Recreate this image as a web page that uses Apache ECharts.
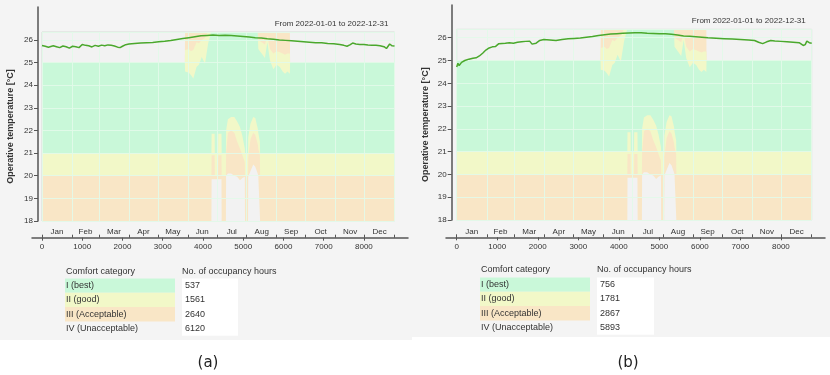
<!DOCTYPE html>
<html>
<head>
<meta charset="utf-8">
<script src="https://cdn.jsdelivr.net/npm/echarts@6/dist/echarts.min.js"></script>
<style>
  html, body { margin: 0; padding: 0; background: #fff; }
  #chart { width: 830px; height: 375px; }
</style>
</head>
<body>
<div id="chart"></div>
<script>
// ---- data ----
const monthNames = ["Jan", "Feb", "Mar", "Apr", "May", "Jun", "Jul", "Aug", "Sep", "Oct", "Nov", "Dec"];
const monthEdges = [0, 744, 1416, 2160, 2880, 3624, 4344, 5088, 5832, 6552, 7296, 8016, 8760];
const monthMids = [372, 1080, 1788, 2520, 3252, 3984, 4716, 5460, 6192, 6924, 7656, 8388];
const hourTicks = [0, 1000, 2000, 3000, 4000, 5000, 6000, 7000, 8000];
const tempTicks = [18, 19, 20, 21, 22, 23, 24, 25, 26];

// comfort band limits over the year (same in both cases)
const bandHours = [0, 3550, 3555, 3650, 3700, 3760, 3840, 3900, 3970, 4050, 4130, 4210,
  4215, 4290, 4295, 4375, 4380, 4460, 4465, 4570, 4575, 4620, 4700, 4780, 4850, 4920, 4980, 5040,
  5045, 5120, 5125, 5180, 5250, 5300, 5360, 5370, 5375, 5415, 5420, 5460, 5540, 5600, 5665, 5750,
  5830, 5910, 5980, 6040, 6100, 6160, 6165, 8760];
// lower edge of the acceptable (III) band; below it nothing is drawn
const lowIII = [18, 18, 18, 18, 18, 18, 18, 18, 18, 18, 18, 18,
  19.85, 19.85, 19.85, 19.85, 19.85, 19.85, 18, 18, 20.0, 20.1, 20.1, 20.0, 19.95, 19.8, 19.9, 19.95,
  18, 18, 19.95, 20.2, 20.5, 20.4, 20.1, 20.05, 20.0, 19.95, 18, 18, 18, 18, 18, 18,
  18, 18, 18, 18, 18, 18, 18, 18];
const lowII = [20, 20, 20, 20, 20, 20, 20, 20, 20, 20, 20, 20,
  20.9, 20.9, 20.0, 20.0, 20.9, 20.9, 20, 20, 21.0, 21.9, 22.0, 21.9, 21.5, 21.2, 20.9, 20.6,
  20, 20, 20.8, 21.6, 21.9, 21.8, 21.4, 21.3, 21.2, 20.9, 20, 20, 20, 20, 20, 20,
  20, 20, 20, 20, 20, 20, 20, 20];
const lowI = [21, 21, 21, 21, 21, 21, 21, 21, 21, 21, 21, 21,
  21.85, 21.85, 21, 21, 21.85, 21.85, 21, 21, 22.0, 22.5, 22.6, 22.6, 22.4, 22.15, 21.75, 21.2,
  21, 21, 21.7, 22.3, 22.6, 22.55, 22.1, 22.0, 21.9, 21.5, 21, 21, 21, 21, 21, 21,
  21, 21, 21, 21, 21, 21, 21, 21];
const highI = [25, 25, 24.6, 24.55, 24.45, 24.3, 24.8, 24.9, 25.25, 24.95, 25.85, 26.4,
  26.4, 26.4, 26.4, 26.4, 26.4, 26.4, 26.4, 26.4, 26.4, 26.4, 26.4, 26.4, 26.4, 26.4, 26.4, 26.4,
  26.4, 26.4, 26.4, 26.4, 26.4, 26.4, 26.4, 26.4, 25.6, 25.5, 25.5, 25.4, 25.2, 25.9, 25.1, 24.7,
  24.9, 24.8, 24.6, 24.5, 24.6, 24.5, 25, 25];
const highII = [25, 25, 25.55, 25.6, 25.5, 25.55, 25.9, 25.85, 26.0, 26.1, 26.4, 26.4,
  26.4, 26.4, 26.4, 26.4, 26.4, 26.4, 26.4, 26.4, 26.4, 26.4, 26.4, 26.4, 26.4, 26.4, 26.4, 26.4,
  26.4, 26.4, 26.4, 26.4, 26.4, 26.4, 26.4, 26.4, 26.0, 25.95, 25.95, 25.9, 25.8, 26.2, 25.6, 25.4,
  25.5, 25.45, 25.4, 25.35, 25.4, 25.4, 25, 25];
const highIII = [25, 25, 26.4, 26.4, 26.4, 26.4, 26.4, 26.4, 26.4, 26.4, 26.4, 26.4,
  26.4, 26.4, 26.4, 26.4, 26.4, 26.4, 26.4, 26.4, 26.4, 26.4, 26.4, 26.4, 26.4, 26.4, 26.4, 26.4,
  26.4, 26.4, 26.4, 26.4, 26.4, 26.4, 26.4, 26.4, 26.4, 26.4, 26.4, 26.4, 26.4, 26.4, 26.4, 26.4,
  26.4, 26.4, 26.4, 26.4, 26.4, 26.4, 25, 25];

// operative temperature, case (a)
const hoursA = [0, 80, 160, 200, 280, 360, 440, 520, 600, 680, 760, 840, 920, 1000, 1080, 1160, 1240,
  1320, 1400, 1480, 1560, 1640, 1720, 1800, 1880, 1940, 2000, 2080, 2160, 2300, 2450, 2600, 2750,
  2900, 3050, 3200, 3350, 3500, 3650, 3800, 3950, 4100, 4250, 4400, 4550, 4700, 4850, 5000, 5150,
  5300, 5450, 5600, 5750, 5900, 6050, 6200, 6350, 6500, 6650, 6800, 6950, 7100, 7250, 7400, 7500,
  7580, 7650, 7720, 7800, 7900, 8000, 8100, 8200, 8300, 8400, 8500, 8560, 8600, 8640, 8700, 8760];
const tempA = [25.75, 25.72, 25.68, 25.64, 25.74, 25.70, 25.66, 25.73, 25.70, 25.64, 25.72, 25.70, 25.66, 25.80, 25.76, 25.74, 25.69,
  25.76, 25.72, 25.77, 25.74, 25.78, 25.76, 25.73, 25.68, 25.66, 25.72, 25.79, 25.82, 25.84, 25.86, 25.88, 25.89,
  25.92, 25.94, 25.97, 26.02, 26.06, 26.10, 26.14, 26.18, 26.20, 26.22, 26.20, 26.21, 26.19, 26.17, 26.15, 26.13,
  26.10, 26.08, 26.05, 26.03, 26.00, 25.98, 25.96, 25.94, 25.92, 25.90, 25.88, 25.87, 25.84, 25.83, 25.80, 25.76,
  25.72, 25.78, 25.86, 25.82, 25.80, 25.80, 25.78, 25.77, 25.76, 25.74, 25.70, 25.62, 25.70, 25.82, 25.74, 25.73];

// operative temperature, case (b)
const hoursB = [0, 30, 60, 120, 200, 300, 400, 480, 560, 640, 720, 800, 880, 960, 1040, 1120, 1200,
  1300, 1400, 1500, 1600, 1700, 1800, 1860, 1900, 1960, 2050, 2150, 2300, 2450, 2600, 2750, 2900,
  3050, 3200, 3350, 3500, 3650, 3800, 3950, 4100, 4250, 4400, 4550, 4700, 4850, 5000, 5150, 5300,
  5450, 5600, 5750, 5900, 6050, 6200, 6400, 6600, 6800, 7000, 7200, 7350, 7450, 7550, 7650, 7750,
  7850, 8000, 8150, 8300, 8450, 8550, 8600, 8640, 8700, 8760];
const tempB = [24.72, 24.88, 24.78, 24.92, 25.00, 25.06, 25.10, 25.12, 25.20, 25.32, 25.46, 25.55, 25.60, 25.62, 25.74, 25.75, 25.76,
  25.78, 25.76, 25.80, 25.82, 25.84, 25.85, 25.72, 25.68, 25.76, 25.88, 25.92, 25.90, 25.88, 25.92, 25.95, 25.97,
  25.99, 26.02, 26.05, 26.10, 26.13, 26.16, 26.18, 26.20, 26.21, 26.22, 26.22, 26.20, 26.19, 26.18, 26.17, 26.15,
  26.12, 26.08, 26.06, 26.04, 26.02, 26.00, 25.98, 25.96, 25.94, 25.92, 25.90, 25.88, 25.80, 25.74, 25.82, 25.88,
  25.86, 25.84, 25.82, 25.80, 25.78, 25.66, 25.70, 25.85, 25.78, 25.76];

const categories = ["I (best)", "II (good)", "III (Acceptable)", "IV (Unacceptable)"];
const occA = [537, 1561, 2640, 6120];
const occB = [756, 1781, 2867, 5893];

// ---- styling ----
const FONT = "Liberation Sans";
const PLOT_BG = "#f2f2f2";
const bandColors = { I: "#c9f8d9", II: "#f2f8c8", III: "#f9e6c6" };
const gridLineColor = "rgba(226,250,233,0.9)";

var myChart = echarts.init(document.getElementById("chart"));

function buildPanel(L, hrs, temps, k, opt) {
  const gi = k * 3, xi = k * 4, yi = k * 3;
  const pxH = (L.right - L.left) / 8760;
  const pxD = (L.bottom - L.top) / (L.yMax - 18);

  opt.grid.push(
    { left: L.left, top: L.top, width: L.right - L.left, height: L.bottom - L.top,
      show: true, backgroundColor: PLOT_BG, borderColor: "#d6ddd7", borderWidth: 1 },
    { left: L.yAxisX, top: L.yTop, width: 1, height: L.bottom - L.yTop },
    { left: L.axisL, top: L.axisY - 20, width: L.axisR - L.axisL, height: 20 }
  );

  const axMin = -(L.left - L.axisL) / pxH, axMax = 8760 + (L.axisR - L.right) / pxH;
  opt.xAxis.push(
    { gridIndex: gi, type: "value", min: 0, max: 8760, z: 3,
      axisLine: { show: false }, axisLabel: { show: false },
      axisTick: { show: false, customValues: monthEdges },
      splitLine: { show: true, lineStyle: { color: gridLineColor, width: 1 } } },
    { gridIndex: gi + 1, type: "value", show: false },
    { gridIndex: gi + 2, type: "value", position: "bottom", min: axMin, max: axMax,
      axisLine: { lineStyle: { color: "#555", width: 1.5 } },
      axisTick: { customValues: hourTicks, length: 3, lineStyle: { color: "#555" } },
      axisLabel: { customValues: hourTicks, fontSize: 8, color: "#333", fontFamily: FONT, margin: 5,
        formatter: (v) => String(v) },
      splitLine: { show: false } },
    { gridIndex: gi + 2, type: "value", position: "bottom", min: axMin, max: axMax,
      axisLine: { show: false },
      axisTick: { customValues: monthEdges, inside: true, length: 3, lineStyle: { color: "#555" } },
      axisLabel: { customValues: monthMids, inside: true, margin: 2, fontSize: 8, color: "#333", fontFamily: FONT,
        formatter: (v) => monthNames[monthMids.indexOf(v)] },
      splitLine: { show: false } }
  );

  opt.yAxis.push(
    { gridIndex: gi, type: "value", min: 18, max: L.yMax, interval: 1, z: 3,
      name: "Operative temperature [°C]", nameLocation: "middle", nameGap: L.left - L.nameX,
      nameTextStyle: { fontSize: 9, fontWeight: "bold", color: "#333", fontFamily: FONT },
      axisLine: { show: false }, axisTick: { show: false }, axisLabel: { show: false },
      splitLine: { show: true, lineStyle: { color: gridLineColor, width: 1 } } },
    { gridIndex: gi + 1, type: "value", min: 18, max: 18 + (L.bottom - L.yTop) / pxD,
      axisLine: { show: true, lineStyle: { color: "#555", width: 1.5 } },
      axisTick: { show: true, customValues: tempTicks, length: 4, lineStyle: { color: "#555" } },
      axisLabel: { customValues: tempTicks, fontSize: 8, color: "#333", fontFamily: FONT, margin: 5 },
      splitLine: { show: false } },
    { gridIndex: gi + 2, type: "value", show: false }
  );

  // comfort bands: each boundary is filled down to 18, painted from the top one to the bottom one
  const layers = [
    { vals: highIII, color: bandColors.III },
    { vals: highII, color: bandColors.II },
    { vals: highI, color: bandColors.I },
    { vals: lowI, color: bandColors.II },
    { vals: lowII, color: bandColors.III },
    { vals: lowIII, color: PLOT_BG }
  ];
  layers.forEach((ly) => {
    opt.series.push({
      type: "line", xAxisIndex: xi, yAxisIndex: yi, z: 2,
      data: bandHours.map((h, i) => [h, ly.vals[i]]),
      showSymbol: false, silent: true,
      lineStyle: { width: 0, opacity: 0 },
      areaStyle: { color: ly.color, opacity: 1, origin: "start" }
    });
  });

  opt.series.push({
    type: "line", xAxisIndex: xi, yAxisIndex: yi, z: 5,
    data: hrs.map((h, i) => [h, temps[i]]),
    showSymbol: false, silent: true,
    lineStyle: { color: "#4aa82c", width: 1.5 }
  });

  opt.title.push({
    text: "From 2022-01-01 to 2022-12-31", right: 830 - L.right + 1, top: L.titleTop,
    textStyle: { fontSize: 8, fontWeight: "normal", color: "#333", fontFamily: FONT }
  });
}

function buildTable(T, occ, caption, g) {
  g.push({ type: "rect", z: -10, shape: { x: T.bgX, y: 0, width: T.bgW, height: T.bgH }, style: { fill: "#f4f4f4" } });
  g.push({ type: "text", x: T.catX, y: T.headY, style: { text: "Comfort category", font: "9px " + FONT, fill: "#333", verticalAlign: "middle" } });
  g.push({ type: "text", x: T.valX, y: T.headY, style: { text: "No. of occupancy hours", font: "9px " + FONT, fill: "#333", verticalAlign: "middle" } });
  const fills = [bandColors.I, bandColors.II, bandColors.III];
  fills.forEach((f, i) => {
    g.push({ type: "rect", shape: { x: T.catX - 1, y: T.rowTop + i * T.rowH, width: T.catW, height: T.rowH }, style: { fill: f } });
  });
  g.push({ type: "rect", shape: { x: T.valX, y: T.rowTop, width: T.valW, height: T.rowH * 4 }, style: { fill: "#ffffff" } });
  categories.forEach((c, i) => {
    const cy = T.rowTop + i * T.rowH + T.rowH / 2;
    g.push({ type: "text", x: T.catX, y: cy, style: { text: c, font: "9px " + FONT, fill: "#333", verticalAlign: "middle" } });
    g.push({ type: "text", x: T.valX + 3, y: cy, style: { text: String(occ[i]), font: "9px " + FONT, fill: "#333", verticalAlign: "middle" } });
  });
  g.push({ type: "text", x: T.capX, y: 363, style: { text: caption, font: "15px DejaVu Sans", fill: "#222", align: "center", verticalAlign: "middle" } });
}

const option = { animation: false, backgroundColor: "#ffffff", grid: [], xAxis: [], yAxis: [], series: [], title: [], graphic: [] };

buildPanel({ left: 42, right: 394.5, top: 32, bottom: 221, yMax: 26.35, yTop: 7, yAxisX: 38,
  axisY: 237.7, axisL: 32, axisR: 408, nameX: 15, titleTop: 15 }, hoursA, tempA, 0, option);
buildPanel({ left: 456.7, right: 811.7, top: 29.3, bottom: 220, yMax: 26.37, yTop: 5, yAxisX: 451.7,
  axisY: 237.3, axisL: 446, axisR: 825, nameX: 430, titleTop: 12 }, hoursB, tempB, 1, option);

buildTable({ bgX: 0, bgW: 412, bgH: 340, catX: 66, catW: 110, valX: 182, valW: 56, headY: 272, rowTop: 278.5, rowH: 14.3, capX: 208 }, occA, "(a)", option.graphic);
buildTable({ bgX: 412, bgW: 418, bgH: 337, catX: 481, catW: 110, valX: 597, valW: 57, headY: 270, rowTop: 277.5, rowH: 14.3, capX: 628 }, occB, "(b)", option.graphic);

myChart.setOption(option);
</script>
</body>
</html>
